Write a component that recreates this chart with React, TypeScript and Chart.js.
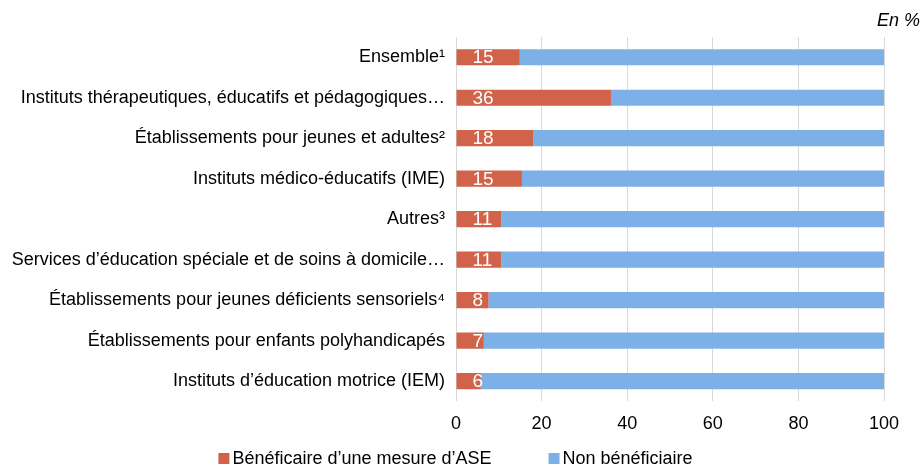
import React, { useEffect, useRef } from "react";
import { Chart, registerables } from "chart.js";

Chart.register(...registerables);

const categories = [
  "Ensemble¹",
  "Instituts thérapeutiques, éducatifs et pédagogiques…",
  "Établissements pour jeunes et adultes²",
  "Instituts médico-éducatifs (IME)",
  "Autres³",
  "Services d’éducation spéciale et de soins à domicile…",
  "Établissements pour jeunes déficients sensoriels⁴",
  "Établissements pour enfants polyhandicapés",
  "Instituts d’éducation motrice (IEM)",
];

const beneficiaire = [14.9, 36.2, 18.0, 15.4, 10.6, 10.6, 7.6, 6.5, 5.8];
const nonBeneficiaire = [85.1, 63.8, 82.0, 84.6, 89.4, 89.4, 92.4, 93.5, 94.2];

const seriesNames = ["Bénéficaire d’une mesure d’ASE", "Non bénéficiaire"];
const xTicks = [0, 20, 40, 60, 80, 100];
const unitLabel = "En %";

const FONT = '"Liberation Sans", Arial, sans-serif';
const RED = "#D0634A";
const BLUE = "#7CB0E7";

const overlayPlugin = {
  id: "overlay",
  afterDatasetsDraw(chart: any) {
    const ctx = chart.ctx;
    const meta = chart.getDatasetMeta(0);
    ctx.save();
    ctx.font = `19px ${FONT}`;
    ctx.fillStyle = "#ffffff";
    ctx.textAlign = "left";
    ctx.textBaseline = "middle";
    meta.data.forEach((el: any, i: number) => {
      const v = chart.data.datasets[0].data[i] as number;
      const p = el.getProps(["base", "y"], true);
      ctx.fillText(String(Math.round(v)), p.base + 16, p.y + 1);
    });
    ctx.restore();
  },
  afterDraw(chart: any) {
    const ctx = chart.ctx;
    ctx.save();
    // unit label
    ctx.font = `italic 18px ${FONT}`;
    ctx.fillStyle = "#000000";
    ctx.textAlign = "right";
    ctx.textBaseline = "middle";
    ctx.fillText(unitLabel, chart.width - 3, 21);
    // legend
    ctx.font = `18px ${FONT}`;
    ctx.textAlign = "left";
    const box = 11;
    const gap = 3;
    const spacing = 57;
    const colors = chart.data.datasets.map((d: any) => d.backgroundColor);
    const names = chart.data.datasets.map((d: any) => d.label);
    const widths = names.map((n: string) => ctx.measureText(n).width);
    let total = 0;
    widths.forEach((w: number, i: number) => {
      total += box + gap + w + (i < widths.length - 1 ? spacing : 0);
    });
    let x = chart.width / 2 - 6 - total / 2;
    const cy = chart.height - 8.5;
    names.forEach((n: string, i: number) => {
      ctx.fillStyle = colors[i];
      ctx.fillRect(x, cy - box / 2, box, box);
      ctx.fillStyle = "#000000";
      ctx.fillText(n, x + box + gap, cy + 1);
      x += box + gap + widths[i] + spacing;
    });
    ctx.restore();
  },
};

export default function App() {
  const ref = useRef<HTMLCanvasElement | null>(null);

  useEffect(() => {
    document.body.style.margin = "0";
    document.body.style.overflow = "hidden";
    if (!ref.current) return;
    const chart = new Chart(ref.current, {
      type: "bar",
      data: {
        labels: categories,
        datasets: [
          {
            label: seriesNames[0],
            data: beneficiaire,
            backgroundColor: RED,
            barPercentage: 0.4,
            categoryPercentage: 1,
          },
          {
            label: seriesNames[1],
            data: nonBeneficiaire,
            backgroundColor: BLUE,
            barPercentage: 0.4,
            categoryPercentage: 1,
          },
        ],
      },
      options: {
        indexAxis: "y",
        animation: false,
        responsive: false,
        devicePixelRatio: 1,
        layout: { padding: { top: 37, bottom: 20, right: 39, left: 0 } },
        plugins: {
          legend: { display: false },
          title: { display: false },
          tooltip: { enabled: false },
        },
        scales: {
          x: {
            stacked: true,
            min: 0,
            max: 100,
            afterBuildTicks: (scale: any) => {
              scale.ticks = xTicks.map((v) => ({ value: v }));
            },
            grid: { color: "#D9D9D9", lineWidth: 1, drawTicks: false },
            border: { display: false },
            ticks: {
              padding: 12,
              color: "#000000",
              font: { family: FONT, size: 18 },
            },
          },
          y: {
            stacked: true,
            afterFit: (scale: any) => {
              scale.width = 456;
            },
            grid: { display: false, drawTicks: false },
            border: { display: false },
            ticks: {
              padding: 11,
              color: "#000000",
              font: { family: FONT, size: 18 },
              autoSkip: false,
            },
          },
        },
      },
      plugins: [overlayPlugin],
    });
    return () => chart.destroy();
  }, []);

  return (
    <div style={{ width: 923, height: 467 }}>
      <canvas ref={ref} width={923} height={467} />
    </div>
  );
}
